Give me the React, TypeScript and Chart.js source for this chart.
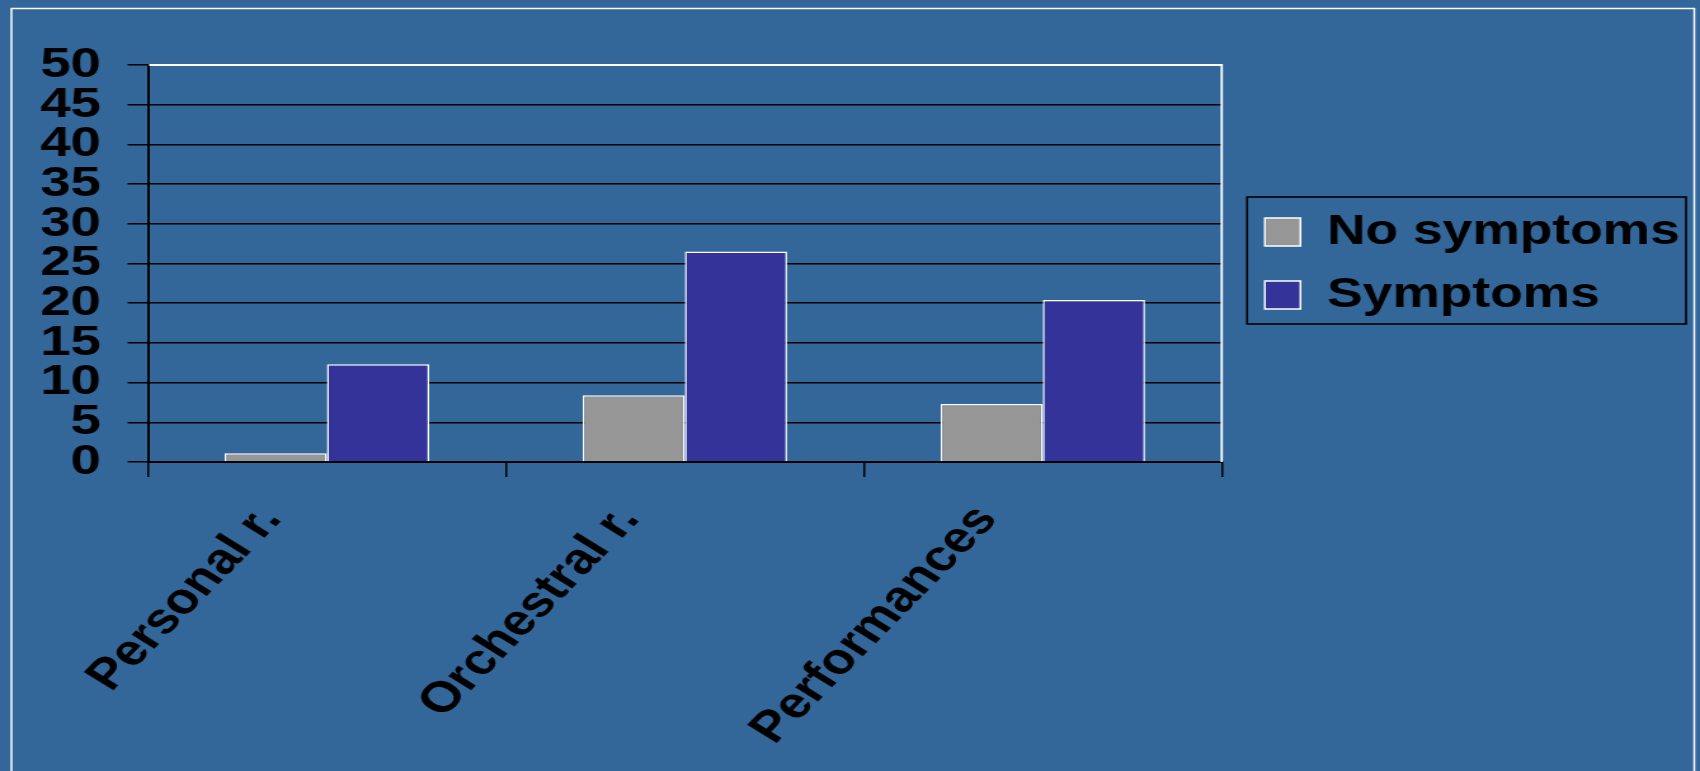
import React, { useEffect, useRef } from 'react';
import { Chart, registerables } from 'chart.js';

Chart.register(...registerables);

// ---- data ----
const categories = ['Personal r.', 'Orchestral r.', 'Performances'];
const seriesLabels = ['No symptoms', 'Symptoms'];
const noSymptoms = [1.1, 8.4, 7.3];
const symptoms = [12.3, 26.5, 20.4];
const yTicks = [0, 5, 10, 15, 20, 25, 30, 35, 40, 45, 50];

// ---- style ----
const BG = '#336699';
const GRAY = '#969696';
const BLUE = '#333399';
const FONT = "'Liberation Sans', Arial, Helvetica, sans-serif";
const FONT_SIZE = 43;
const LEGEND_FONT_SIZE = 42;
const STRETCH = 1.27;
const W = Math.round(1700 / STRETCH);
const H = 771;

const framePlugin = {
  id: 'frame',
  beforeDraw(chart: any) {
    const { ctx, width, height } = chart;
    ctx.save();
    ctx.fillStyle = BG;
    ctx.fillRect(0, 0, width, height);
    ctx.strokeStyle = '#ffffff';
    ctx.lineWidth = 1.5;
    ctx.strokeRect(9, 8.5, 1325.5, 800);
    ctx.restore();
  },
  afterDatasetsDraw(chart: any) {
    const { ctx, chartArea: a } = chart;
    ctx.save();
    ctx.strokeStyle = '#ffffff';
    ctx.lineWidth = 1.8;
    ctx.beginPath();
    ctx.moveTo(a.left + 1, a.top);
    ctx.lineTo(a.right, a.top);
    ctx.lineTo(a.right, a.bottom);
    ctx.stroke();
    ctx.restore();
  },
  afterDraw(chart: any) {
    const lg = chart.legend;
    if (!lg || !lg.legendHitBoxes || !lg.legendHitBoxes.length) return;
    const hb = lg.legendHitBoxes;
    const first = hb[0];
    const last = hb[hb.length - 1];
    let right = 0;
    hb.forEach((h: any) => { right = Math.max(right, h.left + h.width); });
    const l = first.left - 14;
    const t = first.top - 14;
    const r = right + 5;
    const b = last.top + last.height + 8;
    const { ctx } = chart;
    ctx.save();
    ctx.strokeStyle = '#000000';
    ctx.lineWidth = 1.6;
    ctx.strokeRect(l, t, r - l, b - t);
    ctx.restore();
  },
};

export default function App() {
  const ref = useRef<HTMLCanvasElement>(null);

  useEffect(() => {
    document.body.style.margin = '0';
    document.body.style.background = BG;
    const canvas = ref.current;
    if (!canvas) return;
    const chart = new Chart(canvas, {
      type: 'bar',
      data: {
        labels: categories,
        datasets: [
          {
            label: seriesLabels[0],
            data: noSymptoms,
            backgroundColor: GRAY,
            borderColor: '#ffffff',
            borderWidth: 1.5,
            categoryPercentage: 0.5714,
            barPercentage: 1.0,
          },
          {
            label: seriesLabels[1],
            data: symptoms,
            backgroundColor: BLUE,
            borderColor: '#ffffff',
            borderWidth: 1.5,
            categoryPercentage: 0.5714,
            barPercentage: 1.0,
          },
        ],
      },
      options: {
        responsive: false,
        animation: false,
        devicePixelRatio: 1,
        layout: { padding: { top: 65, left: 0, right: 6, bottom: 0 } },
        plugins: {
          tooltip: { enabled: false },
          title: { display: false },
          legend: {
            display: true,
            position: 'right',
            fullSize: false,
            align: 'center',
            maxWidth: 500,
            labels: {
              boxWidth: 28,
              boxHeight: 28,
              padding: 21,
              color: '#000000',
              font: { family: FONT, size: LEGEND_FONT_SIZE, weight: 'bold' },
            },
          },
        },
        scales: {
          x: {
            type: 'category',
            offset: true,
            grid: {
              display: true,
              drawOnChartArea: false,
              color: '#000000',
              lineWidth: 1.5,
              tickLength: 15,
              offset: true,
            },
            border: { display: true, color: '#000000', width: 2 },
            ticks: {
              color: '#000000',
              font: { family: FONT, size: FONT_SIZE, weight: 'bold' },
              minRotation: 52,
              maxRotation: 52,
              autoSkip: false,
              padding: 19,
              labelOffset: -44,
            },
            afterFit: (scale: any) => { scale.height = H - 462; },
          },
          y: {
            type: 'linear',
            min: 0,
            max: 50,
            position: 'left',
            grid: {
              color: '#000000',
              lineWidth: 1.5,
              tickLength: 16,
            },
            border: { display: true, color: '#000000', width: 2 },
            ticks: {
              color: '#000000',
              font: { family: FONT, size: FONT_SIZE, weight: 'bold' },
              padding: 21,
              autoSkip: false,
            },
            afterBuildTicks: (scale: any) => {
              scale.ticks = yTicks.map((v) => ({ value: v }));
            },
            afterFit: (scale: any) => { scale.width = 116.5; },
          },
          gap: {
            type: 'linear',
            position: 'right',
            display: true,
            grid: { display: false, drawTicks: false },
            border: { display: false },
            ticks: { display: false },
            afterFit: (scale: any) => { scale.width = 13; },
          },
        },
      },
      plugins: [framePlugin],
    } as any);
    return () => chart.destroy();
  }, []);

  return (
    <div style={{ position: 'fixed', left: 0, top: 0, width: 1700, height: 771, background: BG, overflow: 'hidden' }}>
      <canvas
        ref={ref}
        width={W}
        height={H}
        style={{ width: '1700px', height: '771px', display: 'block' }}
      />
    </div>
  );
}
